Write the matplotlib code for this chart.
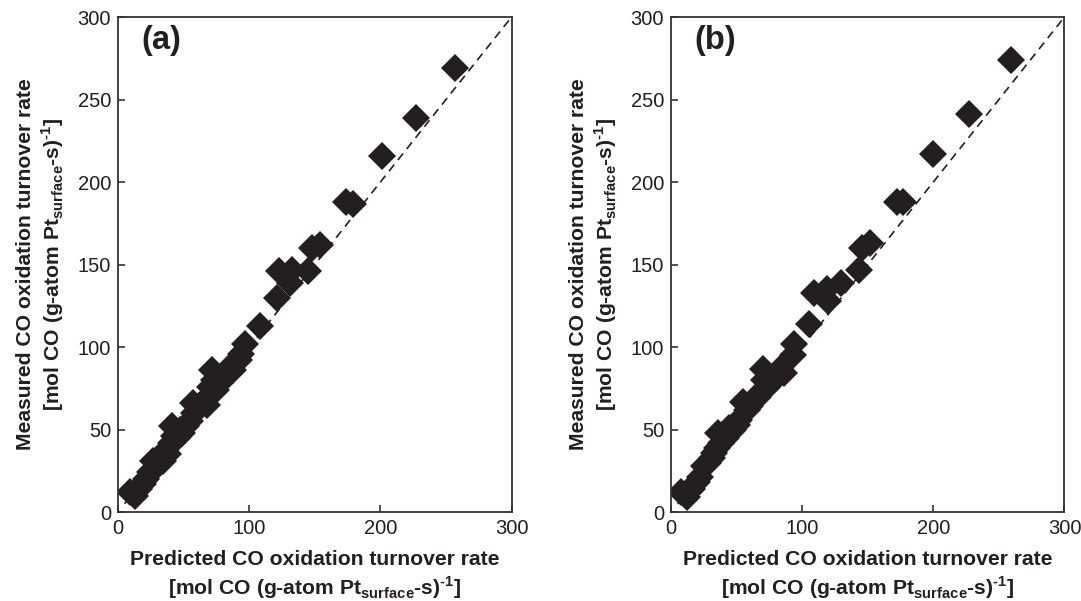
import numpy as np
import matplotlib.pyplot as plt

plt.rcParams['font.family'] = ['Liberation Sans', 'DejaVu Sans']
plt.rcParams['mathtext.fontset'] = 'custom'
plt.rcParams['mathtext.rm'] = 'Liberation Sans'
plt.rcParams['mathtext.bf'] = 'Liberation Sans:bold'

# (predicted, measured) turnover rates
pred_a = [9, 13, 16, 19, 21, 24, 27, 30, 32, 34, 36, 38, 40, 41, 43, 45, 47, 49,
          52, 55, 57, 58, 62, 66, 68, 70, 72, 73, 75, 78, 82, 85, 88, 92, 94, 97,
          108, 121, 123, 131, 133, 145, 148, 154, 174, 179, 201, 227, 257]
meas_a = [12, 10, 14, 17, 20, 24, 31, 28, 33, 31, 37, 35, 42, 52, 46, 45, 50, 48,
          52, 55, 66, 60, 64, 68, 65, 76, 86, 80, 74, 78, 84, 88, 86, 92, 96, 102,
          113, 130, 146, 139, 147, 146, 160, 162, 188, 187, 216, 239, 269]

pred_b = [8, 12, 16, 20, 22, 25, 28, 31, 33, 35, 36, 38, 42, 44, 47, 50, 52, 55,
          58, 60, 66, 68, 70, 71, 73, 76, 83, 86, 93, 94, 105, 109, 119, 120, 130,
          143, 146, 152, 172, 177, 200, 227, 259]
meas_b = [12, 9, 14, 18, 21, 28, 30, 33, 36, 39, 48, 42, 45, 51, 50, 53, 56, 67,
          62, 64, 70, 72, 87, 80, 76, 78, 87, 84, 95, 102, 114, 133, 135, 128, 139,
          147, 160, 163, 188, 188, 217, 241, 274]

panels = [('(a)', pred_a, meas_a), ('(b)', pred_b, meas_b)]

unit = r'[mol CO (g-atom Pt$_{\mathbf{surface}}$-s)$^{\mathbf{‐1}}$]'
xlab = 'Predicted CO oxidation turnover rate\n' + unit
ylab = 'Measured CO oxidation turnover rate\n' + unit

ink = '#231f20'
fig = plt.figure(figsize=(10.81, 6.01), dpi=100)
lefts = [0.1092, 0.6207]

for left, (tag, xp, ym) in zip(lefts, panels):
    ax = fig.add_axes([left, 0.148, 0.3640, 0.8236])
    ax.plot([5, 300], [5, 300], color=ink, lw=1.2, linestyle=(0, (5, 3.5)))
    ax.plot(xp, ym, 'D', color=ink, markersize=14, markeredgewidth=0)
    ax.set_xlim(0, 300)
    ax.set_ylim(0, 300)
    ax.set_xticks([0, 100, 200, 300])
    ax.set_yticks([0, 50, 100, 150, 200, 250, 300])
    ax.tick_params(direction='in', length=5, width=1.1, colors=ink,
                   labelsize=14.5, pad=5)
    for s in ax.spines.values():
        s.set_linewidth(1.3)
        s.set_color('#333333')
    ax.set_xlabel(xlab, fontsize=15.2, fontweight='bold', color=ink,
                  labelpad=9, linespacing=1.25)
    ax.set_ylabel(ylab, fontsize=15.2, fontweight='bold', color=ink,
                  labelpad=8, linespacing=1.25)
    ax.text(18, 286, tag, fontsize=23.5, fontweight='bold', color=ink,
            va='center', ha='left')

fig.savefig('out.png', dpi=100)
